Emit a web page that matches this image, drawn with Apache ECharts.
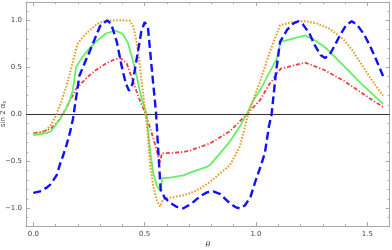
<!DOCTYPE html>
<html><head><meta charset="utf-8">
<script src="https://cdn.jsdelivr.net/npm/echarts@6/dist/echarts.min.js"></script>
<style>html,body{margin:0;padding:0;background:#fff}#c{width:392px;height:250px}</style>
</head><body><div id="c"></div>
<script>
// ---- data ----
const xMajorTicks = [0, 0.5, 1.0, 1.5];
const yMajorTicks = [-1.0, -0.5, 0.0, 0.5, 1.0];
const xMinorTicks = [0.1,0.2,0.3,0.4,0.6,0.7,0.8,0.9,1.1,1.2,1.3,1.4,1.6];
const yMinorTicks = [-1.1,-0.9,-0.8,-0.7,-0.6,-0.4,-0.3,-0.2,-0.1,0.1,0.2,0.3,0.4,0.6,0.7,0.8,0.9,1.1];

const orangeTheta = [0.0,0.03,0.057,0.08,0.102,0.125,0.147,0.165,0.177,0.199,0.225,0.251,0.275,0.296,0.33,0.37,0.40,0.434,0.45,0.464,0.476,0.487,0.497,0.505,0.515,0.524,0.539,0.555,0.569,0.584,0.62,0.674,0.704,0.749,0.793,0.823,0.883,0.928,0.965,0.99,1.018,1.06,1.108,1.15,1.19,1.22,1.27,1.33,1.392,1.43,1.467,1.51,1.557,1.571];
const orangeValues = [-0.20,-0.19,-0.17,-0.11,-0.01,0.13,0.29,0.44,0.556,0.75,0.83,0.89,0.94,0.975,0.995,1.0,1.0,0.995,0.93,0.77,0.57,0.34,0.15,-0.01,-0.24,-0.52,-0.77,-0.92,-0.98,-0.90,-0.885,-0.86,-0.84,-0.79,-0.72,-0.66,-0.54,-0.34,0.0,0.17,0.345,0.65,0.947,0.975,0.99,0.99,0.97,0.91,0.80,0.69,0.556,0.40,0.24,0.20];

const greenTheta = [0.0,0.03,0.06,0.08,0.117,0.147,0.165,0.177,0.192,0.215,0.237,0.28,0.326,0.367,0.40,0.425,0.449,0.465,0.479,0.495,0.509,0.524,0.539,0.555,0.572,0.579,0.62,0.674,0.704,0.779,0.793,0.883,0.93,0.958,0.988,1.018,1.093,1.111,1.22,1.27,1.317,1.392,1.467,1.557,1.571];
const greenValues = [-0.22,-0.21,-0.20,-0.18,-0.06,0.06,0.16,0.255,0.50,0.59,0.66,0.77,0.86,0.89,0.86,0.76,0.556,0.40,0.24,0.10,0.0,-0.38,-0.63,-0.76,-0.82,-0.68,-0.67,-0.65,-0.62,-0.56,-0.54,-0.29,-0.12,0.0,0.15,0.255,0.59,0.77,0.84,0.78,0.70,0.52,0.34,0.14,0.11];

const redTheta = [0.0,0.04,0.08,0.12,0.147,0.17,0.192,0.24,0.28,0.326,0.36,0.39,0.42,0.449,0.475,0.505,0.532,0.554,0.569,0.577,0.62,0.674,0.704,0.793,0.883,0.958,1.018,1.06,1.111,1.22,1.30,1.392,1.467,1.53,1.571];
const redValues = [-0.20,-0.19,-0.15,-0.05,0.06,0.17,0.27,0.39,0.47,0.54,0.58,0.60,0.54,0.34,0.17,0.0,-0.2,-0.38,-0.52,-0.415,-0.41,-0.40,-0.385,-0.31,-0.18,0.0,0.15,0.32,0.485,0.55,0.48,0.36,0.24,0.14,0.08];

const blueTheta = [0.0,0.03,0.06,0.075,0.09,0.105,0.12,0.135,0.15,0.165,0.178,0.19,0.207,0.235,0.255,0.267,0.30,0.332,0.35,0.375,0.397,0.415,0.43,0.445,0.465,0.485,0.50,0.515,0.532,0.551,0.561,0.572,0.591,0.614,0.645,0.674,0.71,0.75,0.78,0.808,0.84,0.88,0.91,0.928,0.95,0.975,0.995,1.02,1.04,1.058,1.07,1.09,1.108,1.14,1.17,1.19,1.21,1.24,1.265,1.29,1.31,1.33,1.355,1.377,1.405,1.43,1.455,1.485,1.512,1.54,1.572];
const blueValues = [-0.835,-0.82,-0.78,-0.75,-0.70,-0.647,-0.53,-0.43,-0.32,-0.19,-0.05,0.14,0.41,0.57,0.68,0.75,0.94,1.0,0.96,0.77,0.51,0.33,0.25,0.32,0.60,0.88,0.98,0.92,0.485,0.02,-0.38,-0.805,-0.89,-0.94,-0.985,-1.0,-0.95,-0.87,-0.83,-0.82,-0.85,-0.94,-0.99,-1.0,-0.97,-0.88,-0.73,-0.56,-0.41,-0.13,0.0,0.45,0.77,0.90,0.97,0.99,0.96,0.86,0.73,0.63,0.60,0.63,0.74,0.84,0.95,0.99,0.95,0.85,0.73,0.58,0.40];

// ---- chart ----
const X_MIN = -0.0328, X_MAX = 1.6005, Y_MIN = -1.188, Y_MAX = 1.195;
const frame = '#a8a8a8', labelColor = '#444';
const fmt = v => (v < 0 ? '\u2212' + Math.abs(v).toFixed(1) : v.toFixed(1));
const zip = (a, b) => a.map((t, i) => [t, b[i]]);

function xAx(pos, vals, len, labels, line) {
  return {
    type: 'value', position: pos, min: X_MIN, max: X_MAX, gridIndex: 0,
    axisLine: { show: line, onZero: false, lineStyle: { color: frame, width: 1 } },
    axisTick: { show: true, inside: true, length: len, customValues: vals, lineStyle: { color: frame, width: 1 } },
    axisLabel: labels ? { show: true, customValues: vals, formatter: fmt, color: labelColor, fontSize: 7, margin: 5, fontFamily: 'DejaVu Sans' } : { show: false },
    splitLine: { show: false }
  };
}
function yAx(pos, vals, len, labels, line) {
  return {
    type: 'value', position: pos, min: Y_MIN, max: Y_MAX, gridIndex: 0,
    axisLine: { show: line, onZero: false, lineStyle: { color: frame, width: 1 } },
    axisTick: { show: true, inside: true, length: len, customValues: vals, lineStyle: { color: frame, width: 1 } },
    axisLabel: labels ? { show: true, customValues: vals, formatter: fmt, color: labelColor, fontSize: 7, margin: 4, fontFamily: 'DejaVu Sans' } : { show: false },
    splitLine: { show: false }
  };
}

const xAxes = [
  xAx('bottom', xMajorTicks, 4, true, true),
  xAx('bottom', xMinorTicks, 2, false, false),
  xAx('top', xMajorTicks, 4, false, true),
  xAx('top', xMinorTicks, 2, false, false)
];
Object.assign(xAxes[0], { name: 'θ', nameLocation: 'middle', nameGap: 15, nameMoveOverlap: false, nameTextStyle: { fontStyle: 'italic', fontSize: 8, color: labelColor, fontFamily: 'DejaVu Serif' } });
const yAxes = [
  yAx('left', yMajorTicks, 4, true, true),
  yAx('left', yMinorTicks, 2, false, false),
  yAx('right', yMajorTicks, 4, false, true),
  yAx('right', yMinorTicks, 2, false, false)
];
Object.assign(yAxes[0], {
  name: '{n|sin 2 α}{s|s}', nameLocation: 'middle', nameGap: 19, nameRotate: 90, nameMoveOverlap: false,
  nameTextStyle: { color: labelColor, rich: { n: { fontSize: 7, color: labelColor, fontFamily: 'DejaVu Sans' }, s: { fontSize: 5, color: labelColor, fontFamily: 'DejaVu Sans', padding: [3, 0, 0, 0] } } }
});

function ser(name, theta, vals, color, width, dash, z) {
  return { name, type: 'line', data: zip(theta, vals), showSymbol: false, symbol: 'none', smooth: false, z,
    lineStyle: { color, width, type: dash, cap: 'butt' }, animation: false };
}

const chart = echarts.init(document.getElementById('c'), null, { renderer: 'canvas' });
chart.setOption({
  animation: false,
  grid: { left: 26, right: 2.3, top: 2, bottom: 24, containLabel: false, outerBoundsMode: 'none' },
  xAxis: xAxes, yAxis: yAxes,
  series: [
    { type: 'line', data: [], z: 1, markLine: { silent: true, symbol: 'none', label: { show: false }, animation: false,
      lineStyle: { color: '#333', width: 1, type: 'solid' }, data: [{ yAxis: 0 }] } },
    ser('red', redTheta, redValues, '#f03c3c', 1.8, [4, 2, 1.2, 2], 3),
    ser('green', greenTheta, greenValues, '#66ee66', 1.8, 'solid', 4),
    ser('orange', orangeTheta, orangeValues, '#e39a2a', 2, [1.6, 1.6], 5),
    ser('blue', blueTheta, blueValues, '#1010ff', 2.4, [8, 4], 6)
  ]
});
</script></body></html>
